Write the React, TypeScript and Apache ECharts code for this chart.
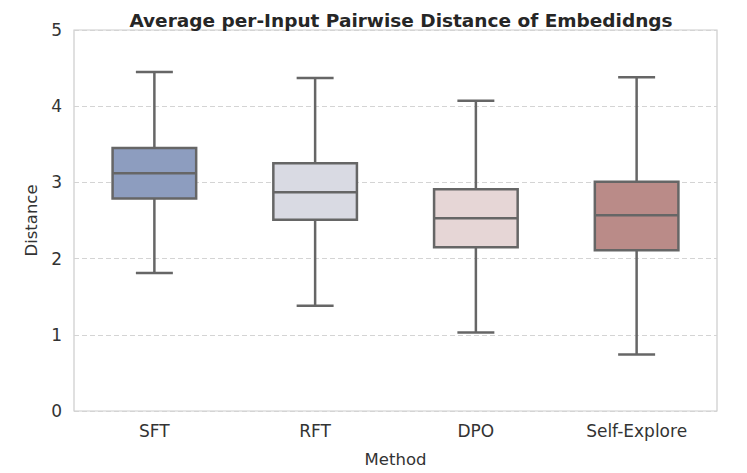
import React, { useEffect, useRef } from "react";
import * as echarts from "echarts";

const categories = ["SFT", "RFT", "DPO", "Self-Explore"];
const whiskerLow = [1.81, 1.38, 1.03, 0.74];
const q1 = [2.79, 2.51, 2.15, 2.11];
const median = [3.12, 2.87, 2.53, 2.57];
const q3 = [3.45, 3.25, 2.91, 3.01];
const whiskerHigh = [4.45, 4.37, 4.07, 4.38];
const boxColors = ["#8d9dbf", "#d9dae3", "#e6d6d6", "#ba8b88"];
const yTicks = [0, 1, 2, 3, 4, 5];

export default function App() {
  const ref = useRef<HTMLDivElement>(null);
  useEffect(() => {
    const chart = echarts.init(ref.current!, null, { renderer: "svg" });
    const data = categories.map((c, i) => [i, whiskerLow[i], q1[i], median[i], q3[i], whiskerHigh[i]]);
    const lineColor = "#666666";
    chart.setOption({
      animation: false,
      textStyle: { fontFamily: "DejaVu Sans" },
      title: {
        text: "Average per-Input Pairwise Distance of Embedidngs",
        left: 396,
        textAlign: "center",
        top: 6,
        textStyle: { fontSize: 18.5, fontWeight: "bold", color: "#262626", fontFamily: "DejaVu Sans" },
      },
      grid: { left: 74, right: 30, top: 30, bottom: 61, show: true, borderColor: "#cccccc", borderWidth: 1.2 },
      xAxis: {
        type: "category",
        data: categories,
        name: "Method",
        nameLocation: "middle",
        nameGap: 40,
        nameTextStyle: { fontSize: 16.5, color: "#333333" },
        axisLine: { show: false },
        axisTick: { show: false },
        axisLabel: { fontSize: 17, color: "#333333", margin: 11 },
        splitLine: { show: false },
      },
      yAxis: {
        type: "value",
        min: yTicks[0],
        max: yTicks[yTicks.length - 1],
        interval: 1,
        name: "Distance",
        nameLocation: "middle",
        nameGap: 24,
        nameTextStyle: { fontSize: 16.5, color: "#333333" },
        axisLine: { show: false },
        axisTick: { show: false },
        axisLabel: { fontSize: 17, color: "#333333", margin: 12 },
        splitLine: { show: true, lineStyle: { color: "#d4d4d4", type: [5, 3], width: 1 } },
      },
      series: [
        {
          type: "custom",
          data,
          encode: { x: 0, y: [1, 2, 3, 4, 5] },
          renderItem: (params: any, api: any) => {
            const idx = api.value(0);
            const bandW = api.size([1, 0])[0];
            const boxW = bandW * 0.52;
            const capW = bandW * 0.23;
            const pLow = api.coord([idx, api.value(1)]);
            const pQ1 = api.coord([idx, api.value(2)]);
            const pMed = api.coord([idx, api.value(3)]);
            const pQ3 = api.coord([idx, api.value(4)]);
            const pHigh = api.coord([idx, api.value(5)]);
            const cx = pLow[0];
            const ls = { stroke: lineColor, lineWidth: 2.5 };
            return {
              type: "group",
              children: [
                { type: "line", shape: { x1: cx, y1: pLow[1], x2: cx, y2: pQ1[1] }, style: ls },
                { type: "line", shape: { x1: cx, y1: pQ3[1], x2: cx, y2: pHigh[1] }, style: ls },
                { type: "line", shape: { x1: cx - capW / 2, y1: pLow[1], x2: cx + capW / 2, y2: pLow[1] }, style: ls },
                { type: "line", shape: { x1: cx - capW / 2, y1: pHigh[1], x2: cx + capW / 2, y2: pHigh[1] }, style: ls },
                {
                  type: "rect",
                  shape: { x: cx - boxW / 2, y: pQ3[1], width: boxW, height: pQ1[1] - pQ3[1] },
                  style: { fill: boxColors[idx], stroke: lineColor, lineWidth: 2.5 },
                },
                { type: "line", shape: { x1: cx - boxW / 2, y1: pMed[1], x2: cx + boxW / 2, y2: pMed[1] }, style: ls },
              ],
            };
          },
        },
      ],
    });
    return () => chart.dispose();
  }, []);
  return <div ref={ref} style={{ width: 747, height: 473, position: "absolute", left: 0, top: 0 }} />;
}
